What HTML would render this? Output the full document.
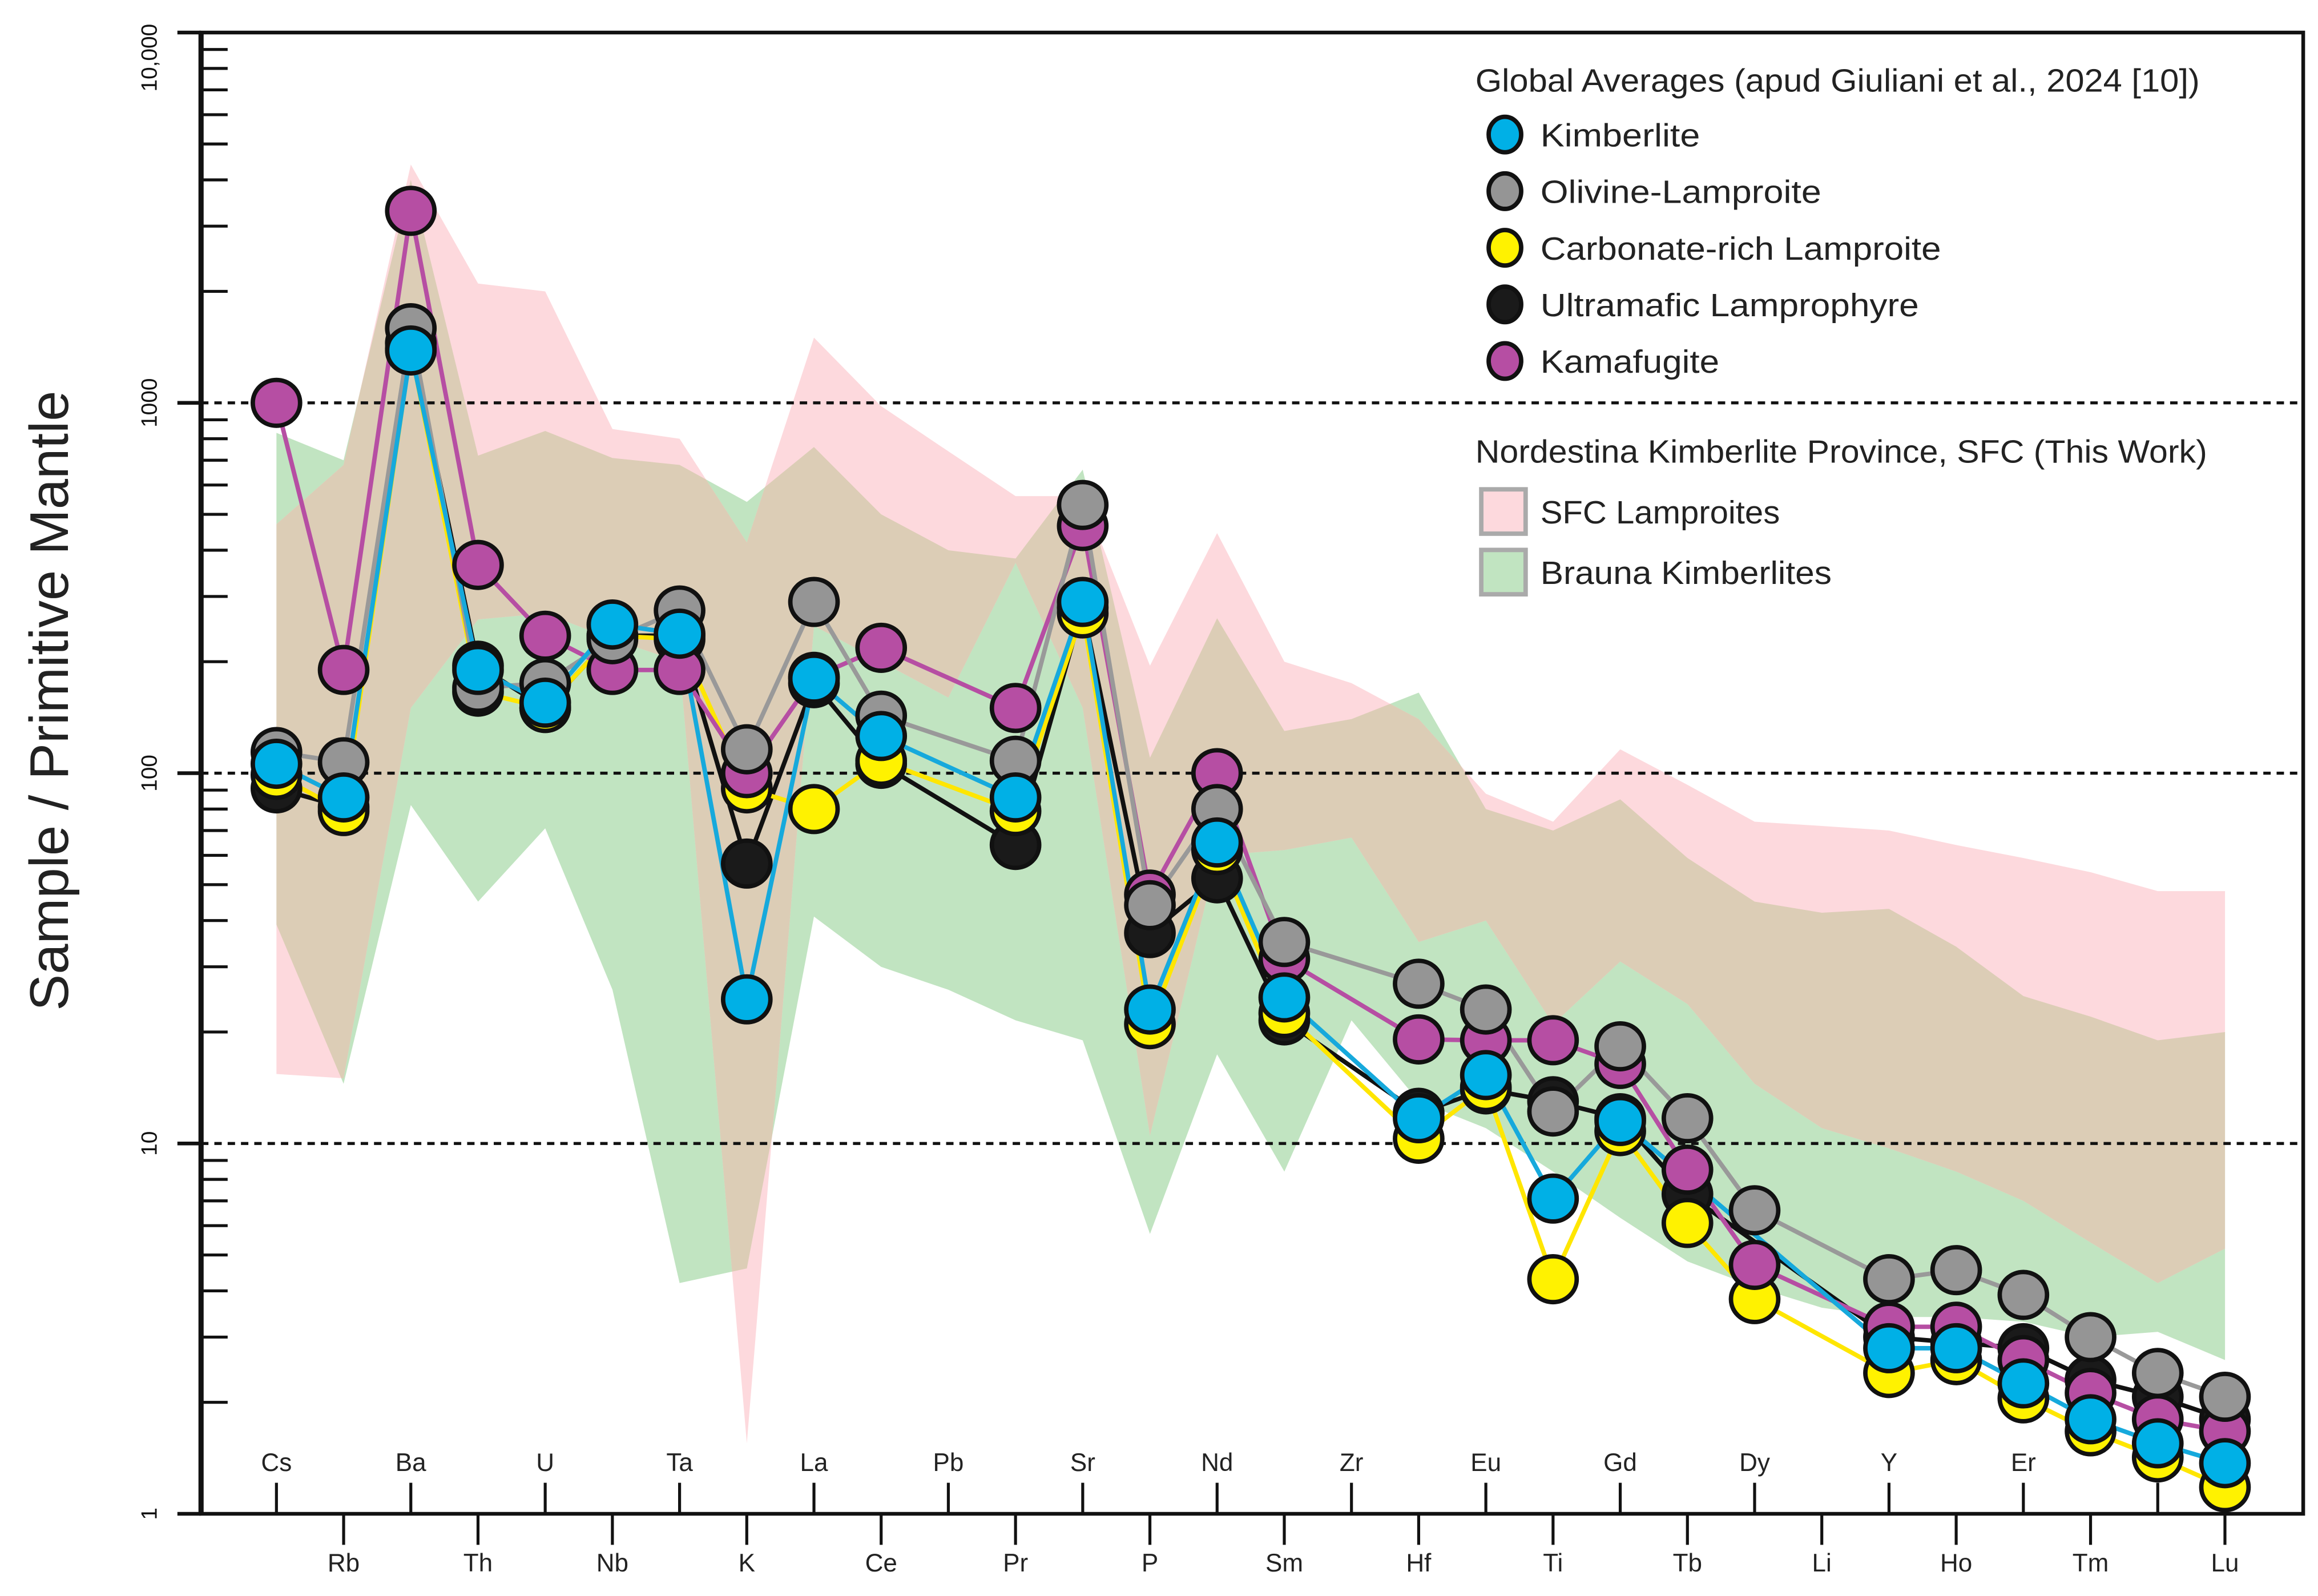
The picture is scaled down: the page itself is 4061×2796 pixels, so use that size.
<!DOCTYPE html>
<html><head><meta charset="utf-8"><style>
html,body{margin:0;padding:0;background:#fff;}
svg{display:block;}
text{font-family:"Liberation Sans",Arial,sans-serif;}
</style></head><body>
<svg id="chart" width="4061" height="2796" viewBox="0 0 1568 1079.6" preserveAspectRatio="none" xmlns="http://www.w3.org/2000/svg">
<defs><clipPath id="greenClip"><path id="greenClipPath" d=""/></clipPath></defs>
<g id="bands"></g>
<g id="grid"></g>
<g id="axes"></g>
<g id="lines"></g>
<g id="markers"></g>
<g id="legend"></g>
</svg>
<script>
const elements = ["Cs","Rb","Ba","Th","U","Nb","Ta","K","La","Ce","Pb","Pr","Sr","P","Nd","Sm","Zr","Hf","Eu","Ti","Gd","Tb","Dy","Li","Y","Ho","Er","Tm","Yb","Lu"];
const elementLabels = ["Cs","Rb","Ba","Th","U","Nb","Ta","K","La","Ce","Pb","Pr","Sr","P","Nd","Sm","Zr","Hf","Eu","Ti","Gd","Tb","Dy","Li","Y","Ho","Er","Tm","","Lu"];
const yTickValues = [1,10,100,1000,10000];
const yTickLabels = ["1","10","100","1000","10,000"];

const kimberlite   = [106,86,1385,190,155,252,238,24.5,180,126,null,86,290,23,65,24.8,null,11.7,15.3,7.1,11.5,null,null,null,2.8,2.8,2.25,1.8,1.55,1.37];
const olivineLamp  = [114,107,1590,170,175,230,275,116,290,143,null,108,530,44,80,35,null,27,23,12.2,18.3,11.7,6.6,null,4.3,4.55,3.9,3.0,2.4,2.07];
const carbLamp     = [99,79,1400,166,150,235,230,91,80,108,null,79,270,21,62,22.5,null,10.3,14.2,4.3,10.8,6.1,3.8,null,2.4,2.6,2.05,1.67,1.42,1.18];
const ultramafic   = [91,81,1450,195,150,235,235,57,175,106,null,64,280,37,52,21.5,null,12.1,14,13,11.7,7.3,null,null,3.0,2.9,2.8,2.3,2.07,1.8];
const kamafugite   = [1000,190,3300,365,235,190,190,100,182,218,null,150,465,47,100,31.5,null,19.1,19,19,16.4,8.5,4.7,null,3.2,3.2,2.6,2.12,1.8,1.67];

const sfcUpper    = [470,680,4400,2100,2000,850,800,420,1500,980,740,560,560,195,445,200,175,140,88,74,116,93,74,72,70,64,59,54,48,48];
const sfcLower    = [15.4,15,150,260,270,230,200,1.55,250,200,160,370,150,10.5,60,62,67,35,40,21,31,23.8,14.5,11,9.7,8.4,7.0,5.4,4.2,5.2];
const braunaUpper = [830,700,4000,720,840,710,680,540,760,500,400,380,660,110,262,130,140,165,80,70,85,59,45,42,43,34,25,22,19,20];
const braunaLower = [39,14.5,82,45,71,26,4.2,4.6,41,30,26,21.5,19,5.7,17.4,8.4,21.5,13,11,8.4,6.3,4.8,4.1,3.6,3.4,3.4,3.3,3.0,3.1,2.6];

const NS="http://www.w3.org/2000/svg";
const X0=187, DX=45.45, YBOT=1024, DEC=250.5, XL=136, XR=1558, YTOP=22;
function xAt(i){return X0+i*DX;}
function yAt(v){return YBOT-Math.log10(v)*DEC;}
function mk(tag,attrs,parent){const e=document.createElementNS(NS,tag);for(const k in attrs)e.setAttribute(k,attrs[k]);parent.appendChild(e);return e;}

function bandPath(up,lo){
  let d="";
  up.forEach((v,i)=>{d+=(i?"L":"M")+xAt(i).toFixed(1)+","+yAt(v).toFixed(1);});
  for(let i=lo.length-1;i>=0;i--){d+="L"+xAt(i).toFixed(1)+","+yAt(lo[i]).toFixed(1);}
  return d+"Z";
}
const bands=document.getElementById("bands");
const gP=bandPath(braunaUpper,braunaLower), pP=bandPath(sfcUpper,sfcLower);
document.getElementById("greenClipPath").setAttribute("d",gP);
const gb=mk("path",{d:gP,fill:"#c1e4c1"},bands);


const pb=mk("path",{d:pP,fill:"#fdd9dd"},bands);


const ob=mk("path",{d:pP,fill:"#dccdb6","clip-path":"url(#greenClip)"},bands);



const grid=document.getElementById("grid");
[10,100,1000].forEach(v=>{
  const l=mk("line",{x1:XL,x2:XR,y1:yAt(v),y2:yAt(v),stroke:"#111","stroke-width":2,"stroke-dasharray":"5,4"},grid);
  
  
});

const axes=document.getElementById("axes");
const frame=mk("path",{d:`M${XL},${YTOP}L${XR},${YTOP}L${XR},${YBOT}L${XL},${YBOT}Z`,fill:"none",stroke:"#111","stroke-width":2.5},axes);


mk("line",{x1:XL,x2:XL,y1:YTOP,y2:YBOT,stroke:"#111","stroke-width":3.5},axes);
for(let d=0;d<4;d++){
  for(let m=2;m<=9;m++){
    const y=yAt(m*Math.pow(10,d));
    mk("line",{x1:XL,x2:XL+18,y1:y,y2:y,stroke:"#111","stroke-width":2},axes);
  }
}
yTickValues.forEach((v,i)=>{
  const y=yAt(v);
  mk("line",{x1:XL-16,x2:XL,y1:y,y2:y,stroke:"#111","stroke-width":2.5},axes);
  const t=mk("text",{x:0,y:0,transform:`translate(106,${y}) rotate(-90)`,"text-anchor":i==4?"start":"middle","font-size":15,fill:"#111"},axes);
  if(i==4)t.setAttribute("transform",`translate(106,${y+40}) rotate(-90)`);
  t.textContent=yTickLabels[i];
  
  
});
const yt=mk("text",{x:0,y:0,transform:"translate(46,474) rotate(-90)","text-anchor":"middle","font-size":37,fill:"#222"},axes);
yt.textContent="Sample / Primitive Mantle";



elements.forEach((el,i)=>{
  const x=xAt(i), top=(i%2==0);
  mk("line",{x1:x,x2:x,y1:top?1003:YBOT,y2:top?YBOT:1045,stroke:"#111","stroke-width":2},axes);
  if(elementLabels[i]){
    const t=mk("text",{x:x,y:top?995:1063,"text-anchor":"middle","font-size":17,fill:"#222"},axes);
    t.textContent=elementLabels[i];
    
    
  }
});

const series=[
  {name:"ultramafic-lamprophyre",data:ultramafic,line:"#111",fill:"#1a1a1a"},
  {name:"carbonate-rich-lamproite",data:carbLamp,line:"#ffe600",fill:"#fff200"},
  {name:"kamafugite",data:kamafugite,line:"#b64ea3",fill:"#b64ea3"},
  {name:"olivine-lamproite",data:olivineLamp,line:"#999",fill:"#959595"},
  {name:"kimberlite",data:kimberlite,line:"#16a9dc",fill:"#00b0e6"}
];
const lines=document.getElementById("lines"), markers=document.getElementById("markers");
series.forEach(s=>{
  let d="";let first=true;
  s.data.forEach((v,i)=>{if(v==null)return;d+=(first?"M":"L")+xAt(i).toFixed(1)+","+yAt(v).toFixed(1);first=false;});
  const p=mk("path",{d:d,fill:"none",stroke:s.line,"stroke-width":3,"stroke-linejoin":"round"},lines);
  
  
});
series.forEach(s=>{
  s.data.forEach((v,i)=>{
    if(v==null)return;
    const c=mk("ellipse",{cx:xAt(i),cy:yAt(v),rx:16,ry:15.5,fill:s.fill,stroke:"#111","stroke-width":3},markers);
    
    
  });
});

const lg=document.getElementById("legend");
function lt(x,y,txt,name,len){const t=mk("text",{x:x,y:y,"font-size":22,fill:"#222"},lg);if(len){t.setAttribute("textLength",len);t.setAttribute("lengthAdjust","spacingAndGlyphs");}t.textContent=txt;return t;}
lt(998,62,"Global Averages (apud Giuliani et al., 2024 [10])","legend-title-global",490);
const legItems=[["Kimberlite","#00b0e6",108],["Olivine-Lamproite","#959595",190],["Carbonate-rich Lamproite","#fff200",271],["Ultramafic Lamprophyre","#1a1a1a",256],["Kamafugite","#b64ea3",121]];
legItems.forEach((it,k)=>{
  const y=91+k*38.3;
  const c=mk("ellipse",{cx:1018,cy:y,rx:11,ry:12,fill:it[1],stroke:"#111","stroke-width":3},lg);
  
  
  lt(1042,y+8,it[0],'legend-entry-'+it[0].toLowerCase().replace(/[^a-z]+/g,'-'),it[2]);
});
lt(998,313,"Nordestina Kimberlite Province, SFC (This Work)","legend-title-nordestina",495);
const sq1=mk("rect",{x:1002,y:331,width:30,height:30,fill:"#fdd9dd",stroke:"#aaa","stroke-width":3},lg);


lt(1042,354,"SFC Lamproites","legend-entry-sfc-lamproites",162);
const sq2=mk("rect",{x:1002,y:372,width:30,height:30,fill:"#c1e4c1",stroke:"#aaa","stroke-width":3},lg);


lt(1042,395,"Brauna Kimberlites","legend-entry-brauna-kimberlites",197);
</script>
</body></html>
